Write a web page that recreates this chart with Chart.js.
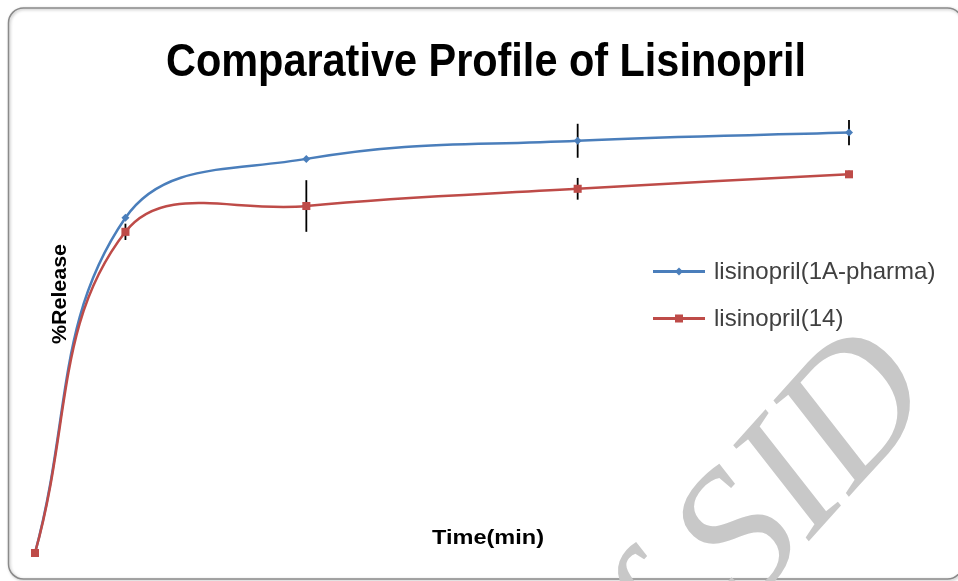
<!DOCTYPE html>
<html><head><meta charset="utf-8">
<script src="https://cdn.jsdelivr.net/npm/chart.js@4"></script>
<style>html,body{margin:0;padding:0;background:#fff}#wrap{width:958px;height:581px;position:relative}</style>
</head><body><div id="wrap"><canvas id="c"></canvas></div>
<script>
// ---- data ----
const timeMin = [0, 5, 15, 30, 45];
const seriesNames = ['lisinopril(1A-pharma)', 'lisinopril(14)'];
const pharma1A = [0, 74, 87, 91, 92.8];
const lis14 = [0, 70.9, 76.6, 80.4, 83.6];
const pharma1ASD = [0, 0.5, 0.3, 3.75, 2.8];
const lis14SD = [0, 1.8, 5.7, 2.4, 0.8];
const titleText = 'Comparative Profile of Lisinopril';
const xTitle = 'Time(min)';
const yTitle = '%Release';
const watermark = 'of SID';

const BLUE = '#4A7EBB', RED = '#BE4B48';
const sdSets = [pharma1ASD, lis14SD];

function toPts(vals){ return timeMin.map((t,i)=>({x:t, y:vals[i]})); }

function fitText(ctx, text, x, y, font, targetW, color){
  ctx.save();
  ctx.font = font;
  ctx.fillStyle = color;
  ctx.textBaseline = 'alphabetic';
  ctx.textAlign = 'left';
  const w = ctx.measureText(text).width;
  const s = targetW / w;
  ctx.translate(x, y);
  ctx.scale(s, 1);
  ctx.fillText(text, -w/2, 0);
  ctx.restore();
}

const errorBars = {
  id: 'errorBars',
  beforeDatasetsDraw(chart){
    const ctx = chart.ctx, xs = chart.scales.x, ys = chart.scales.y;
    ctx.save();
    ctx.strokeStyle = '#000';
    ctx.lineWidth = 1.8;
    chart.data.datasets.forEach((ds, di) => {
      const sd = sdSets[di];
      ds.data.forEach((p, i) => {
        if (!sd[i]) return;
        const x = xs.getPixelForValue(p.x);
        ctx.beginPath();
        ctx.moveTo(x, ys.getPixelForValue(p.y + sd[i]));
        ctx.lineTo(x, ys.getPixelForValue(p.y - sd[i]));
        ctx.stroke();
      });
    });
    ctx.restore();
  }
};

const decor = {
  id: 'decor',
  afterDraw(chart){
    const ctx = chart.ctx;
    // title
    fitText(ctx, titleText, 486, 76, 'bold 47px "Liberation Sans", Arial, sans-serif', 640, '#000');
    // x axis title
    fitText(ctx, xTitle, 488, 544, 'bold 21px "Liberation Sans", Arial, sans-serif', 112, '#000');
    // y axis title
    ctx.save();
    ctx.translate(66, 294);
    ctx.rotate(-Math.PI/2);
    fitText(ctx, yTitle, 0, 0, 'bold 20px "Liberation Sans", Arial, sans-serif', 100, '#000');
    ctx.restore();
    // legend
    const items = [{c:BLUE, y:271.5, style:'diamond'}, {c:RED, y:318.5, style:'square'}];
    items.forEach((it, i) => {
      ctx.save();
      ctx.strokeStyle = it.c; ctx.fillStyle = it.c; ctx.lineWidth = 3;
      ctx.beginPath(); ctx.moveTo(653, it.y); ctx.lineTo(705, it.y); ctx.stroke();
      if (it.style === 'diamond') {
        ctx.beginPath();
        ctx.moveTo(679, it.y-4); ctx.lineTo(683, it.y); ctx.lineTo(679, it.y+4); ctx.lineTo(675, it.y);
        ctx.closePath(); ctx.fill();
      } else {
        ctx.fillRect(675, it.y-4, 8, 8);
      }
      ctx.fillStyle = '#404040';
      ctx.font = '24px "Liberation Sans", Arial, sans-serif';
      ctx.textBaseline = 'middle';
      ctx.fillText(seriesNames[i], 714, it.y + 1);
      ctx.restore();
    });
    // border
    ctx.save();
    ctx.strokeStyle = '#8a8a8a';
    ctx.lineWidth = 1.5;
    ctx.shadowColor = 'rgba(0,0,0,0.3)';
    ctx.shadowBlur = 3; ctx.shadowOffsetX = 1; ctx.shadowOffsetY = 1;
    ctx.beginPath();
    ctx.roundRect(8.5, 8, 954, 571, 15);
    ctx.stroke();
    ctx.restore();
    // watermark
    ctx.save();
    ctx.fillStyle = '#c8c8c8';
    ctx.font = 'italic 184px "Liberation Serif", "DejaVu Serif", serif';
    ctx.translate(787, 475);
    ctx.rotate(-48 * Math.PI / 180);
    ctx.textBaseline = 'alphabetic';
    ctx.textAlign = 'left';
    const pre = ctx.measureText('of S').width;
    const m = ctx.measureText('I');
    const gcx = (m.actualBoundingBoxRight - m.actualBoundingBoxLeft) / 2;
    const gcy = (m.actualBoundingBoxDescent - m.actualBoundingBoxAscent) / 2;
    ctx.fillText(watermark, -pre - gcx, -gcy);
    ctx.restore();
  }
};

new Chart(document.getElementById('c'), {
  type: 'line',
  data: {
    datasets: [
      { label: seriesNames[0], data: toPts(pharma1A), borderColor: BLUE, backgroundColor: BLUE,
        borderWidth: 2.5, pointStyle: 'rectRot', pointRadius: 4, pointBorderWidth: 0, tension: 0.4, order: 2, clip: false },
      { label: seriesNames[1], data: toPts(lis14), borderColor: RED, backgroundColor: RED,
        borderWidth: 2.5, pointStyle: 'rect', pointRadius: 5.7, pointBorderWidth: 0, tension: 0.4, order: 1, clip: false }
    ]
  },
  options: {
    responsive: true, maintainAspectRatio: false, animation: false,
    layout: { padding: { left: 35, right: 109, top: 100, bottom: 28 } },
    scales: {
      x: { type: 'linear', min: 0, max: 45, display: false },
      y: { min: 0, max: 100, display: false }
    },
    plugins: { legend: { display: false }, title: { display: false }, tooltip: { enabled: false } }
  },
  plugins: [errorBars, decor]
});
</script></body></html>
